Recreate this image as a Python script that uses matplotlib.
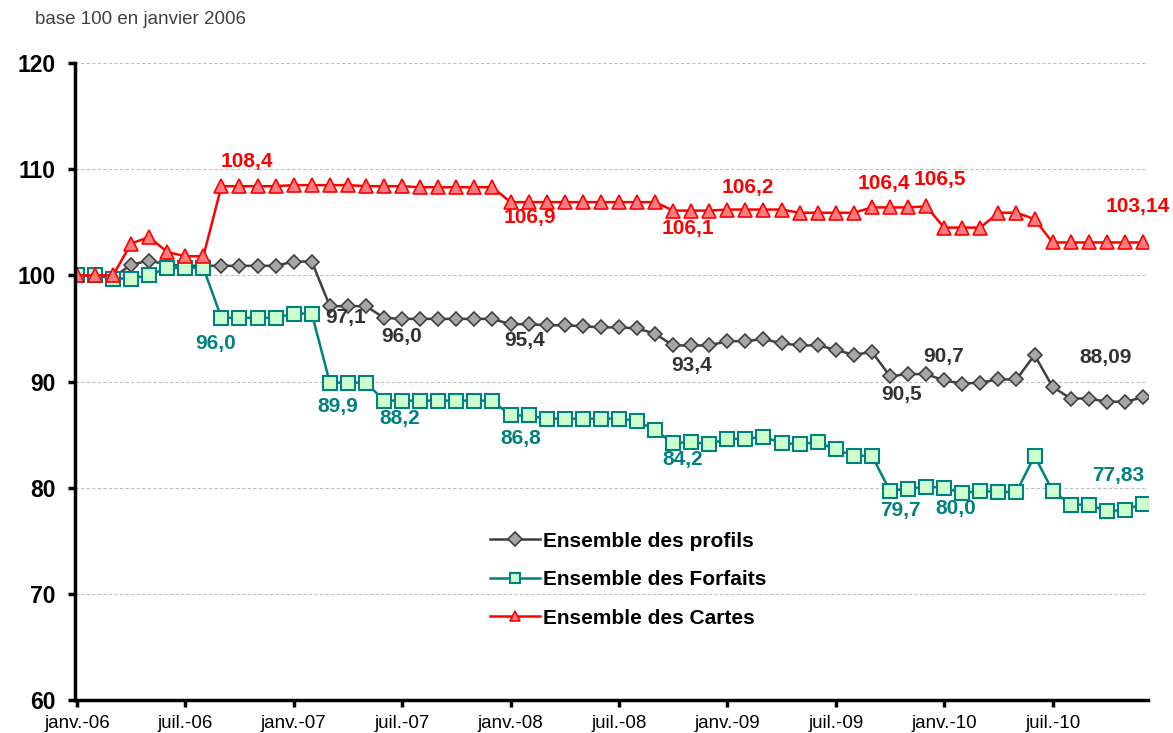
import numpy as np
import matplotlib
matplotlib.use("Agg")
import matplotlib.pyplot as plt

plt.rcParams['font.family'] = ['Liberation Sans', 'DejaVu Sans']

# indices mensuels de janv.-06 a dec.-10 (base 100 en janvier 2006)
profils = [100.0, 100.0, 99.8, 101.0, 101.4, 101.0, 100.9, 100.9, 100.9, 100.9,
           100.9, 100.9, 101.3, 101.3, 97.1, 97.1, 97.1, 96.0, 95.9, 95.9,
           95.9, 95.9, 95.9, 95.9, 95.4, 95.4, 95.3, 95.3, 95.2, 95.1,
           95.1, 95.0, 94.5, 93.4, 93.4, 93.4, 93.8, 93.8, 94.0, 93.6,
           93.4, 93.4, 93.0, 92.5, 92.8, 90.5, 90.7, 90.7, 90.1, 89.8,
           89.9, 90.2, 90.2, 92.5, 89.5, 88.4, 88.4, 88.1, 88.1, 88.5]

forfaits = [100.0, 100.0, 99.7, 99.7, 100.0, 100.7, 100.7, 100.7, 96.0, 96.0,
            96.0, 96.0, 96.4, 96.4, 89.9, 89.9, 89.9, 88.2, 88.2, 88.2,
            88.2, 88.2, 88.2, 88.2, 86.8, 86.8, 86.5, 86.5, 86.5, 86.5,
            86.5, 86.3, 85.4, 84.2, 84.3, 84.1, 84.6, 84.6, 84.8, 84.2,
            84.1, 84.3, 83.6, 83.0, 83.0, 79.7, 79.9, 80.1, 80.0, 79.5,
            79.7, 79.6, 79.6, 83.0, 79.7, 78.4, 78.4, 77.8, 77.9, 78.5]

cartes = [100.0, 100.0, 100.0, 103.0, 103.6, 102.2, 101.8, 101.8, 108.4, 108.4,
          108.4, 108.4, 108.5, 108.5, 108.5, 108.5, 108.4, 108.4, 108.4, 108.3,
          108.3, 108.3, 108.3, 108.3, 106.9, 106.9, 106.9, 106.9, 106.9, 106.9,
          106.9, 106.9, 106.9, 106.1, 106.1, 106.1, 106.2, 106.2, 106.2, 106.2,
          105.9, 105.9, 105.9, 105.9, 106.4, 106.4, 106.4, 106.5, 104.5, 104.5,
          104.5, 105.9, 105.9, 105.3, 103.1, 103.1, 103.1, 103.1, 103.1, 103.1]

tick_labels = ["janv.-06", "juil.-06", "janv.-07", "juil.-07", "janv.-08",
               "juil.-08", "janv.-09", "juil.-09", "janv.-10", "juil.-10"]

# etiquettes : (indice du mois, texte, decalage x, decalage y en pixels)
lab_cartes = [(9, "108,4", 7, 25), (25, "106,9", 1, -15), (34, "106,1", -3, -18),
              (37, "106,2", 2, 22), (45, "106,4", -6, 24), (47, "106,5", 14, 27),
              (58, "103,14", 13, 36)]
lab_profils = [(15, "97,1", -2, -11), (18, "96,0", 0, -18), (25, "95,4", -4, -16),
               (34, "93,4", 0, -20), (46, "90,5", -6, -20), (47, "90,7", 17, 18),
               (57, "88,09", -1, 44)]
lab_forfaits = [(8, "96,0", -6, -26), (14, "89,9", 8, -24), (18, "88,2", -2, -18),
                (24, "86,8", 10, -23), (33, "84,2", 10, -16), (45, "79,7", 10, -20),
                (48, "80,0", 12, -21), (57, "77,83", 11, 36)]

x = np.arange(len(profils))

fig = plt.figure(figsize=(11.73, 7.33), dpi=100)
ax = fig.add_axes([0.064, 0.045, 0.915, 0.869])

ax.plot(x, profils, color="#404040", lw=1.8, marker="D", ms=7.5,
        mfc="#A6A6A6", mec="#404040", mew=1.2, label="Ensemble des profils")
ax.plot(x, forfaits, color="#008080", lw=1.8, marker="s", ms=9.5,
        mfc="#CCFFCC", mec="#008080", mew=1.5, label="Ensemble des Forfaits")
ax.plot(x, cartes, color="#FF0000", lw=1.8, marker="^", ms=10,
        mfc="#FF7C80", mec="#FF0000", mew=1.2, label="Ensemble des Cartes")

for serie, labs, col in [(cartes, lab_cartes, "#FF0000"),
                         (profils, lab_profils, "#333333"),
                         (forfaits, lab_forfaits, "#008080")]:
    for i, txt, dx, dy in labs:
        ax.annotate(txt, (x[i], serie[i]), xytext=(dx, dy), textcoords="offset pixels",
                    ha="center", va="center", fontsize=15, fontweight="bold", color=col)

ax.set_xlim(-0.1, 59.3)
ax.set_ylim(60, 120)
ax.set_yticks(np.arange(60, 121, 10))
ax.set_xticks(np.arange(0, 6 * len(tick_labels), 6))
ax.set_xticklabels(tick_labels, fontsize=13.5)
for t in ax.get_yticklabels():
    t.set_fontweight("bold")
    t.set_fontsize(16.5)

ax.yaxis.grid(True, ls=(0, (3, 2)), color="#BFBFBF", lw=0.8)
ax.set_axisbelow(True)
for s in ["top", "right"]:
    ax.spines[s].set_visible(False)
for s in ["left", "bottom"]:
    ax.spines[s].set_linewidth(2.5)
ax.tick_params(axis="y", length=5, width=2.5, pad=9)
ax.tick_params(axis="x", length=5, width=2.5, pad=6)

leg = ax.legend(loc="center left", bbox_to_anchor=(0.387, 0.189), frameon=False,
                prop={"size": 15, "weight": "bold"}, handlelength=2.4,
                handletextpad=0.1, labelspacing=0.93, borderpad=0, borderaxespad=0)
for h in leg.legend_handles:
    h.set_markersize(7.5)

fig.text(0.03, 0.973, "base 100 en janvier 2006", fontsize=13.5, color="#404040",
         ha="left", va="center")

fig.savefig("out.png", dpi=100)
